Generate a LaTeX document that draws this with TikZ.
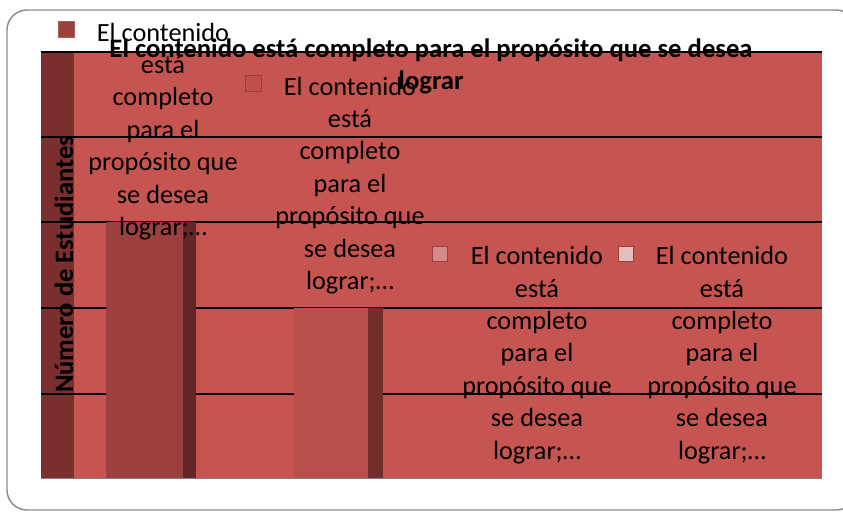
\documentclass[tikz,border=0pt]{standalone}
\usepackage{fontspec}
\setmainfont{Carlito}
\usetikzlibrary{positioning}
\definecolor{plotred}{HTML}{C65551}
\definecolor{wallred}{HTML}{7B2E2E}
\definecolor{barone}{HTML}{9B3F3F}
\definecolor{baroneside}{HTML}{622626}
\definecolor{bartwo}{HTML}{B84F4B}
\definecolor{bartwoside}{HTML}{722D2D}
\definecolor{keytwo}{HTML}{C0504D}
\definecolor{keythree}{HTML}{D48A8A}
\definecolor{keyfour}{HTML}{E4BDBD}
\definecolor{keyedge}{HTML}{9B3D3D}
\definecolor{framegray}{HTML}{8C8C8C}

\begin{document}
\begin{tikzpicture}[
    x=0.75pt, y=-0.75pt,
    lbl/.style={align=center, inner sep=0pt, font=\fontsize{19.7}{24.3}\selectfont},
    keybox/.style={draw=keyedge, line width=0.9pt, fill=#1, minimum size=11.8pt, inner sep=0pt},
    gridline/.style={black, line width=1.4pt}
]
\useasboundingbox (0,0) rectangle (843,512);

% Chart frame
\draw[framegray, line width=1.1pt, rounded corners=15pt] (7,10) rectangle (856,510);

% Plot area and side wall
\fill[plotred] (41,52) rectangle (822,478);
\fill[wallred] (41,52) rectangle (74,478);

% Gridlines
\foreach \gy in {52,137,222,308,394}
  \draw[gridline] (41,\gy) -- (822,\gy);

% Bars
\fill[barone] (106,222) rectangle (183,478);
\fill[baroneside] (183,222) rectangle (196,478);
\fill[bartwo] (294,308) rectangle (368,478);
\fill[bartwoside] (368,308) rectangle (383,478);

% Floor
\draw[gray, line width=1.4pt] (41,478.5) -- (822,478.5);

% Legend keys
\node[keybox=barone, draw=barone!85!white] (key1) at (66.5,29.5) {};
\node[keybox=keytwo] (key2) at (253.5,83.5) {};
\node[keybox=keythree] (key3) at (440,254) {};
\node[keybox=keyfour] (key4) at (626,254) {};

% Legend texts
\node[lbl] (key1 text) at (163,131.5) {El contenido\\está\\completo\\para el\\propósito que\\se desea\\lograr;…};
\node[lbl] (key2 text) at (350,185.5) {El contenido\\está\\completo\\para el\\propósito que\\se desea\\lograr;…};
\node[lbl] (key3 text) at (537,355) {El contenido\\está\\completo\\para el\\propósito que\\se desea\\lograr;…};
\node[lbl] (key4 text) at (722,355) {El contenido\\está\\completo\\para el\\propósito que\\se desea\\lograr;…};

% Title and axis
\node[lbl, font=\fontsize{20}{24}\selectfont\bfseries] (title) at (431,66) {El contenido está completo para el propósito que se desea\\lograr};
\node[lbl, font=\fontsize{19.9}{24}\selectfont\bfseries, rotate=90] (axis) at (64,264.5) {Número de Estudiantes};

\end{tikzpicture}
\end{document}
